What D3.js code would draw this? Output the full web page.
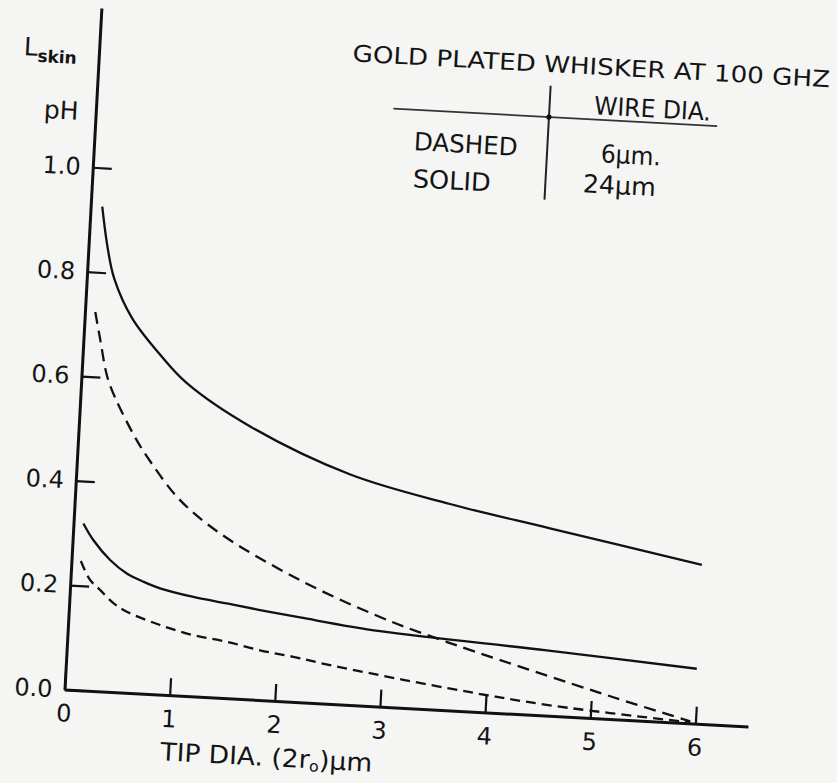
<!DOCTYPE html>
<html>
<head>
<meta charset="utf-8">
<script src="https://cdn.jsdelivr.net/npm/d3@7"></script>
<style>
body { margin: 0; background: #f5f5f4; }
svg { display: block; }
text { font-family: "DejaVu Sans", sans-serif; fill: #141414; }
</style>
</head>
<body>
<svg id="chart"></svg>
<script>
// tip diameter (um) and L skin (pH)
var tipSolidUpper = [0.11, 0.18, 0.26, 0.45, 0.74, 1.0, 1.63, 2.60, 3.56, 4.52, 5.98]
var lskinSolidUpper = [0.926, 0.850, 0.790, 0.716, 0.648, 0.598, 0.521, 0.440, 0.394, 0.358, 0.304]

var tipDashedUpper = [0.098, 0.16, 0.241, 0.326, 0.555, 0.709, 0.996, 1.396, 2.178, 2.955, 3.504, 5.208, 5.95]
var lskinDashedUpper = [0.724, 0.671, 0.604, 0.564, 0.484, 0.441, 0.374, 0.314, 0.233, 0.171, 0.136, 0.042, 0.004]

var tipSolidLower = [0.094, 0.198, 0.366, 0.531, 0.693, 0.854, 1.175, 1.495, 1.814, 2.197, 2.962, 4.553, 5.985]
var lskinSolidLower = [0.319, 0.288, 0.252, 0.228, 0.214, 0.203, 0.190, 0.181, 0.172, 0.162, 0.144, 0.1245, 0.105]

var tipDashedLower = [0.089, 0.186, 0.286, 0.419, 0.551, 0.873, 1.194, 1.514, 1.834, 2.153, 2.505, 3.66, 4.61, 5.95]
var lskinDashedLower = [0.247, 0.212, 0.194, 0.170, 0.155, 0.133, 0.117, 0.108, 0.095, 0.086, 0.074, 0.0415, 0.020, 0.002]

var xTicks = [0, 1, 2, 3, 4, 5, 6]
var yTicks = [0, 0.2, 0.4, 0.6, 0.8, 1.0]

var width = 837
var height = 783
var origin = {x: 64.5, y: 689.5}
var tilt = 3.1     // the scanned sheet sits turned a little clockwise
var unitX = 105.3  // px per um
var unitY = 523    // px per pH

var x = d3.scaleLinear().domain([0, 6.5]).range([origin.x, origin.x + 6.5 * unitX])
var y = d3.scaleLinear().domain([0, 1.305]).range([origin.y, origin.y - 1.305 * unitY])

var svg = d3.select("#chart")
  .attr("width", width)
  .attr("height", height)

svg.append("rect")
  .attr("width", width)
  .attr("height", height)
  .attr("fill", "#f5f5f4")

var g = svg.append("g")
  .attr("transform", "rotate(" + tilt + "," + origin.x + "," + origin.y + ")")

//axes

var xAxis = d3.axisBottom(x)
  .tickValues(xTicks)
  .tickSize(-17)
  .tickSizeOuter(0)
  .tickPadding(15)
  .tickFormat(d3.format("d"))

var yAxis = d3.axisLeft(y)
  .tickValues(yTicks)
  .tickSize(-19)
  .tickSizeOuter(0)
  .tickPadding(12)
  .tickFormat(d3.format(".1f"))

g.append("g")
  .attr("transform", "translate(0," + origin.y + ")")
  .call(xAxis)

g.append("g")
  .attr("transform", "translate(" + origin.x + ",0)")
  .call(yAxis)

g.selectAll(".domain").attr("stroke", "#111").attr("stroke-width", 3)
g.selectAll(".tick line").attr("stroke", "#111").attr("stroke-width", 2.2)
g.selectAll(".tick text")
  .attr("font-family", "DejaVu Sans, sans-serif")
  .attr("font-size", 24)
  .attr("fill", "#141414")

//curves

var line = d3.line()
  .x(d => x(d[0]))
  .y(d => y(d[1]))
  .curve(d3.curveCatmullRom.alpha(0.5))

var curves = [
  {tip: tipSolidUpper, lskin: lskinSolidUpper, dash: null},
  {tip: tipDashedUpper, lskin: lskinDashedUpper, dash: "12,7"},
  {tip: tipSolidLower, lskin: lskinSolidLower, dash: null},
  {tip: tipDashedLower, lskin: lskinDashedLower, dash: "10,6"}
]

g.selectAll(".curve")
  .data(curves)
  .enter().append("path")
  .attr("class", "curve")
  .attr("fill", "none")
  .attr("stroke", "#111")
  .attr("stroke-width", 2.3)
  .attr("stroke-dasharray", d => d.dash)
  .attr("d", d => line(d3.zip(d.tip, d.lskin)))

//labels

var label = function(u, v, txt, size, len) {
  var t = g.append("text")
    .attr("x", x(u))
    .attr("y", y(v))
    .attr("font-size", size)
    .text(txt)
  if (len) t.attr("textLength", len).attr("lengthAdjust", "spacingAndGlyphs")
  return t
}

var ly = label(-0.714, 1.207, "L", 25)
ly.append("tspan").attr("font-size", 17).attr("font-weight", "bold").attr("dy", 6).text("skin")
label(-0.493, 1.089, "pH", 25)

var xl = label(0.942, -0.125, "TIP DIA. (2r", 25, 212)
xl.append("tspan").attr("font-size", 15).attr("dy", 3).text("o")
xl.append("tspan").attr("dy", -3).text(")\u00b5m")

//legend block

label(2.406, 1.229, "GOLD PLATED WHISKER AT 100 GHZ", 23, 478)
label(4.723, 1.153, "WIRE DIA.", 25, 117)
label(3.032, 1.066, "DASHED", 25, 104)
label(3.041, 0.995, "SOLID", 25, 78)
label(4.812, 1.062, "6\u00b5m.", 25, 60)
label(4.656, 1.003, "24\u00b5m", 25, 73)

g.append("line")
  .attr("x1", x(2.82)).attr("x2", x(5.90))
  .attr("y1", y(1.143)).attr("y2", y(1.143))
  .attr("stroke", "#333").attr("stroke-width", 1.8)

g.append("line")
  .attr("x1", x(4.30)).attr("x2", x(4.30))
  .attr("y1", y(1.203)).attr("y2", y(0.985))
  .attr("stroke", "#222").attr("stroke-width", 2)

g.append("circle")
  .attr("cx", x(4.30)).attr("cy", y(1.143))
  .attr("r", 2.6).attr("fill", "#111")
</script>
</body>
</html>
